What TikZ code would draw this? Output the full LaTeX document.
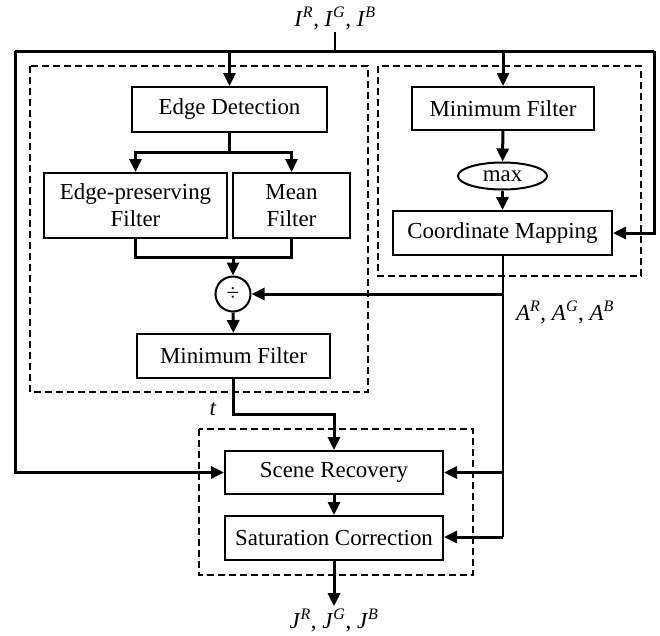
\documentclass[tikz,border=0pt]{standalone}
\usepackage{fontspec}
\setmainfont{Liberation Serif}
\usepackage{tikz}
\usetikzlibrary{arrows.meta, positioning, calc, shapes.geometric}
\newcommand{\chan}[2]{\textit{#1}\textsuperscript{\textit{#2}}}
\tikzset{
  procbox/.style={draw, line width=2pt, minimum height=44pt, inner sep=0pt,
                  align=center},
  group/.style={draw, line width=1.6pt, dash pattern=on 7pt off 4pt},
  arrow/.style={-{Triangle[length=13pt,width=12pt]}, line width=3pt},
  wire/.style={line width=3pt},
  thinwire/.style={line width=2pt}
}

\begin{document}
\begin{tikzpicture}[x=1pt, y=-1pt, font=\fontsize{22.9}{27}\selectfont]
    \useasboundingbox (0,0) rectangle (660,635);

    \draw[group] (30,66) rectangle (368,392);
    \draw[group] (378,66) rectangle (641,276);
    \draw[group] (199,429) rectangle (473,575);

    \node[inner sep=2pt] (in) at (335,18) {\chan{I}{R}, \chan{I}{G}, \chan{I}{B}};
    \node[inner sep=2pt] (alab) at (565,312) {\chan{A}{R}, \chan{A}{G}, \chan{A}{B}};
    \node[inner sep=2pt] (tlab) at (213,409) {\textit{t}};
    \node[inner sep=2pt] (out) at (334,620) {\chan{J}{R}, \chan{J}{G}, \chan{J}{B}};

    \node[procbox, minimum width=195pt, minimum height=45pt] (edge) at (229.5,109.5) {Edge Detection};
    \node[procbox, minimum width=183pt, minimum height=65pt] (epf) at (135.5,205.5) {Edge-preserving\\Filter};
    \node[procbox, minimum width=117pt, minimum height=65pt] (mean) at (291.5,205.5) {Mean\\Filter};
    \node[circle, draw, line width=2pt, minimum size=35pt, inner sep=0pt] (div) at (233,294) {÷};
    \node[procbox, minimum width=193pt] (minL) at (233.5,356) {Minimum Filter};

    \node[procbox, minimum width=182pt, minimum height=43pt] (minR) at (503,108.5) {Minimum Filter};
    \node[ellipse, draw, line width=2pt, minimum width=89pt, minimum height=27pt, inner sep=0pt] (max) at (502.5,176) {max};
    \node[procbox, minimum width=219pt] (map) at (502.5,233) {Coordinate Mapping};

    \node[procbox, minimum width=218pt, minimum height=43pt] (scene) at (334,472.5) {Scene Recovery};
    \node[procbox, minimum width=218pt, minimum height=44pt] (sat) at (334,538) {Saturation Correction};

    \coordinate (top) at (335,51);
    \coordinate (tl) at (15,51);
    \coordinate (tr) at (654,51);
    \coordinate (split) at (229.5,152);
    \coordinate (merge) at (233,257);
    \coordinate (tjoin) at (334,414);
    \coordinate (abus) at (502.5,537);

    \draw[thinwire] (in) -- (top);
    \draw[wire] (tl) -- (tr);
    \draw[arrow] (tl) |- (scene);
    \draw[arrow] (tr) |- (map);
    \draw[arrow] (edge.north |- top) -- (edge);
    \draw[arrow] (minR.north |- top) -- (minR);

    \draw[wire] (edge) -- (split);
    \draw[arrow] (split) -| (epf);
    \draw[arrow] (split) -| (mean);
    \draw[wire] (epf) |- (merge);
    \draw[wire] (mean) |- (merge);
    \draw[arrow] (merge) -- (div);
    \draw[arrow] (div) -- (minL);
    \draw[arrow] (minL) |- (tjoin) -- (scene);

    \draw[arrow] (minR) -- (max);
    \draw[arrow] (max) -- (map);
    \draw[thinwire] (map) -- (abus);
    \draw[arrow] (map.south |- div) -- (div);
    \draw[arrow] (map.south |- scene) -- (scene);
    \draw[arrow] (abus) -- (sat.east |- abus);

    \draw[arrow] (scene) -- (sat);
    \draw[arrow] (sat) -- (out);
\end{tikzpicture}
\end{document}
